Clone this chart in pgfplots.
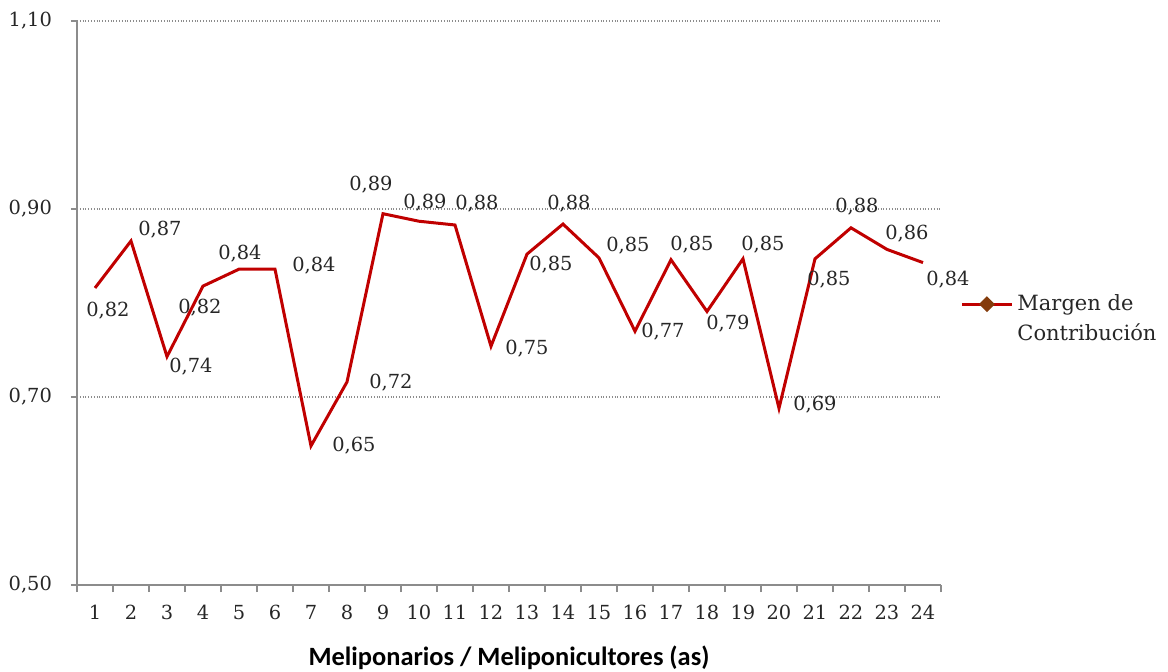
\documentclass[border=0pt]{standalone}
\usepackage{pgfplots}
\usepackage{pgfplotstable}
\pgfplotsset{compat=1.18}
\usepackage{fontspec}
\setmainfont{DejaVu Serif}
\newfontfamily\labelfont{Carlito}

\definecolor{serie}{HTML}{C00000}
\definecolor{marca}{HTML}{843C0C}
\definecolor{ejes}{HTML}{8C8C8C}
\definecolor{texto}{HTML}{262626}

% n: meliponario, y: margen de contribucion, lbl: etiqueta, dx/dy: desplazamiento de la etiqueta (pt)
\pgfplotstableread{
n  y      lbl   dx     dy
1  0.816  0,82   6.5  -11.5
2  0.866  0,87  14.5    5.5
3  0.743  0,74  12.0   -5.0
4  0.818  0,82  -1.5  -11.0
5  0.836  0,84   0.5    8.0
6  0.836  0,84  19.5    2.0
7  0.648  0,65  21.5    0.0
8  0.716  0,72  22.0   -0.5
9  0.895  0,89  -6.0   14.5
10 0.887  0,89   3.0    9.5
11 0.883  0,88  11.0   10.5
12 0.754  0,75  18.0   -1.0
13 0.852  0,85  12.0   -5.0
14 0.884  0,88   3.0   10.0
15 0.848  0,85  14.5    6.0
16 0.770  0,77  14.0    0.0
17 0.846  0,85  10.5    7.5
18 0.791  0,79  10.5   -6.0
19 0.847  0,85  10.0    7.0
20 0.688  0,69  18.0    2.0
21 0.847  0,85   7.0  -10.5
22 0.880  0,88   3.0   10.5
23 0.857  0,86  10.0    8.0
24 0.843  0,84  12.5   -8.5
}\margen

\begin{document}
\begin{tikzpicture}
\useasboundingbox (-38.5pt,-43pt) rectangle (545.5pt,292.5pt);
\begin{axis}[
  at={(0,0)}, anchor=south west,
  scale only axis, width=432pt, height=282pt,
  xmin=0.5, xmax=24.5, ymin=0.5, ymax=1.1,
  axis x line*=bottom, axis y line*=left,
  axis line style={ejes, line width=0.8pt},
  ytick={0.5,0.7,0.9,1.1},
  ymajorgrids,
  grid style={densely dotted, ejes, line width=0.7pt},
  xtick={1,...,24},
  minor xtick={0.5,1.5,...,24.5},
  major x tick style={draw=none},
  tick style={ejes, line width=0.8pt},
  minor tick style={ejes, line width=0.8pt},
  tick align=outside,
  major tick length=3pt,
  minor tick length=3.5pt,
  ticklabel style={font=\fontsize{9.7}{11}\selectfont, text=texto},
  yticklabel style={/pgf/number format/.cd, fixed, fixed zerofill, precision=2, use comma, assume math mode=true, /tikz/.cd, xshift=-6pt},
  xticklabel style={/pgf/number format/assume math mode=true, anchor=base, yshift=-14pt},
  xlabel={\labelfont\bfseries Meliponarios / Meliponicultores (as)},
  xlabel style={at={(axis description cs:0.5,0)}, anchor=base, yshift=-40pt, font=\fontsize{13.2}{15}\selectfont, text=black},
  clip=false,
  legend style={draw=none, fill=none, at={(1.0151,0.4714)}, anchor=west,
    font=\fontsize{10.5}{15}\selectfont, text=texto,
    cells={align=left, anchor=west}},
  % the key sits level with the first line of the two-line entry
  legend image code/.code={
    \draw[serie, line width=1.5pt] (0pt,7.5pt) -- (25pt,7.5pt);
    \fill[marca] (12.5pt,10.4pt) -- (15.4pt,7.5pt) -- (12.5pt,4.6pt) -- (9.6pt,7.5pt) -- cycle;
  },
]
\addplot[serie, line width=1.5pt, mark=none,
  nodes near coords, point meta=explicit symbolic,
  visualization depends on={\thisrow{dx} \as \dx},
  visualization depends on={\thisrow{dy} \as \dy},
  every node near coord/.append style={anchor=center, xshift=\dx, yshift=\dy,
    font=\fontsize{9.7}{11}\selectfont, text=texto, inner sep=0pt},
] table[x=n, y=y, meta=lbl] {\margen};
\addlegendentry{Margen de\\Contribución}
\end{axis}
\end{tikzpicture}
\end{document}
